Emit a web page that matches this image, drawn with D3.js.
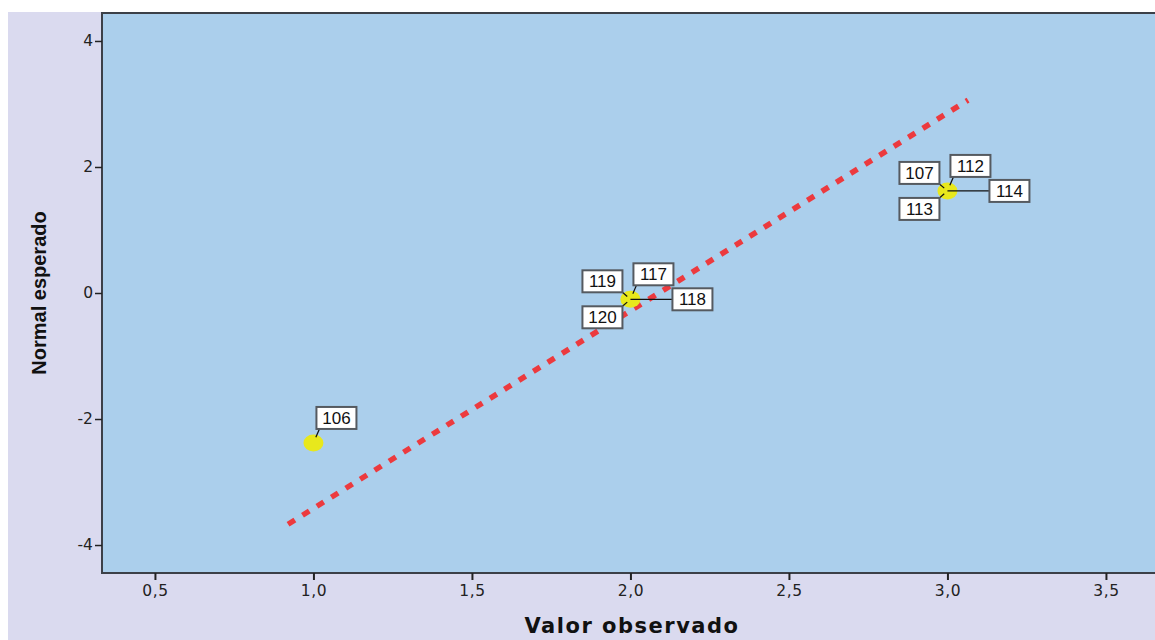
<!DOCTYPE html>
<html>
<head>
<meta charset="utf-8">
<script src="https://cdn.jsdelivr.net/npm/d3@7"></script>
<style>
  body { margin: 0; background: #ffffff; }
  svg { display: block; }
</style>
</head>
<body>
<div id="chart"></div>
<script>
// data
const obsValues = [1, 2, 2, 2, 2, 3, 3, 3, 3];
const expValues = [-2.38, -0.1, -0.1, -0.1, -0.1, 1.62, 1.62, 1.62, 1.62];
const caseIds = ["106", "117", "118", "119", "120", "112", "114", "107", "113"];
// label placement for each case: up, right, upleft, downleft
const labelPos = ["up", "up", "right", "upleft", "downleft", "up", "right", "upleft", "downleft"];
const refLineX = [0.92, 3.065];
const refLineY = [-3.67, 3.06];
const xTicks = [0.5, 1.0, 1.5, 2.0, 2.5, 3.0, 3.5];
const yTicks = [-4, -2, 0, 2, 4];

const W = 1155, H = 640;
const margin = {left: 102, top: 13, right: 0, bottom: 67};
const plotW = W - margin.left - margin.right,
      plotH = H - margin.top - margin.bottom;

const svg = d3.select("#chart")
    .append("svg")
    .attr("width", W)
    .attr("height", H);

// outer lavender background
svg.append("rect")
    .attr("x", 8).attr("y", 12)
    .attr("width", W - 8).attr("height", H - 12)
    .attr("fill", "#dadaef");

const g = svg.append("g")
    .attr("transform", "translate(" + margin.left + "," + margin.top + ")");

const x = d3.scaleLinear()
    .domain([0.333, 0.333 + plotW / 317])
    .range([0, plotW]);
const y = d3.scaleLinear()
    .domain([-4.444, 4.444])
    .range([plotH, 0]);

// plot area
g.append("rect")
    .attr("width", plotW + 5).attr("height", plotH)
    .attr("fill", "#abcfec")
    .attr("stroke", "#3c4048")
    .attr("stroke-width", 2);

// axes
const yAxis = g.append("g")
    .call(d3.axisLeft(y).tickValues(yTicks).tickSize(7).tickSizeOuter(0).tickFormat(d3.format("d")));
yAxis.select(".domain").remove();
yAxis.selectAll("line").attr("stroke", "#222").attr("stroke-width", 1.5);
yAxis.selectAll("text")
    .attr("font-family", "DejaVu Sans, sans-serif")
    .attr("font-size", 15.5)
    .attr("fill", "#222")
    .attr("x", -9)
    .text(d => d < 0 ? "-" + Math.abs(d) : d);

const xAxis = g.append("g")
    .attr("transform", "translate(0," + plotH + ")")
    .call(d3.axisBottom(x).tickValues(xTicks).tickSize(7).tickSizeOuter(0)
        .tickFormat(d => d3.format(".1f")(d).replace(".", ",")));
xAxis.select(".domain").remove();
xAxis.selectAll("line").attr("stroke", "#222").attr("stroke-width", 2);
xAxis.selectAll("text")
    .attr("font-family", "DejaVu Sans, sans-serif")
    .attr("font-size", 15.5)
    .attr("letter-spacing", 0.6)
    .attr("fill", "#222")
    .attr("y", 12);

// reference line
g.append("line")
    .attr("x1", x(refLineX[0])).attr("y1", y(refLineY[0]))
    .attr("x2", x(refLineX[1])).attr("y2", y(refLineY[1]))
    .attr("stroke", "#ec3a3e")
    .attr("stroke-width", 5.5)
    .attr("stroke-dasharray", "8,9");

// points
const pts = obsValues.map((v, i) => ({x: v, y: expValues[i], id: caseIds[i], pos: labelPos[i]}));

const uniq = pts.filter((p, i) => pts.findIndex(q => q.x === p.x && q.y === p.y) === i);
g.selectAll("ellipse.pt")
    .data(uniq)
    .enter().append("ellipse")
    .attr("class", "pt")
    .attr("cx", d => x(d.x)).attr("cy", d => y(d.y))
    .attr("rx", 10).attr("ry", 8.5)
    .attr("fill", "#e8e81c");

// label offsets from the point (box left/top) and leader line end
const offs = {
  up:       {dx: 3,   dy: -36, lx: 6,   ly: -14},
  right:    {dx: 42,  dy: -11, lx: 42,  ly: 0},
  upleft:   {dx: -48, dy: -29, lx: -8,  ly: -7},
  downleft: {dx: -48, dy: 7,   lx: -8,  ly: 7}
};

const lab = g.selectAll("g.lab")
    .data(pts)
    .enter().append("g")
    .attr("class", "lab");

lab.append("line")
    .attr("x1", d => x(d.x) + (d.pos === "right" ? 0 : offs[d.pos].lx * 0.4))
    .attr("y1", d => y(d.y) + (d.pos === "right" ? 0 : offs[d.pos].ly * 0.4))
    .attr("x2", d => x(d.x) + offs[d.pos].lx)
    .attr("y2", d => y(d.y) + offs[d.pos].ly)
    .attr("stroke", "#111")
    .attr("stroke-width", 1.2);

lab.append("rect")
    .attr("x", d => x(d.x) + offs[d.pos].dx)
    .attr("y", d => y(d.y) + offs[d.pos].dy)
    .attr("width", 40).attr("height", 22)
    .attr("fill", "#ffffff")
    .attr("stroke", "#555a60")
    .attr("stroke-width", 2);

lab.append("text")
    .attr("x", d => x(d.x) + offs[d.pos].dx + 20)
    .attr("y", d => y(d.y) + offs[d.pos].dy + 17)
    .attr("text-anchor", "middle")
    .attr("font-family", "Liberation Sans, Arial, sans-serif")
    .attr("font-size", 17)
    .attr("fill", "#111")
    .text(d => d.id);

// axis titles
svg.append("text")
    .attr("x", 632).attr("y", 633)
    .attr("text-anchor", "middle")
    .attr("font-family", "DejaVu Sans, Verdana, sans-serif")
    .attr("font-weight", "bold")
    .attr("font-size", 21)
    .attr("letter-spacing", 1.5)
    .attr("fill", "#111")
    .text("Valor observado");

svg.append("text")
    .attr("transform", "translate(46,293) rotate(-90)")
    .attr("text-anchor", "middle")
    .attr("font-family", "Liberation Sans Narrow, Arial Narrow, sans-serif")
    .attr("font-stretch", "condensed")
    .attr("font-weight", "bold")
    .attr("font-size", 20)
    .attr("fill", "#111")
    .text("Normal esperado");
</script>
</body>
</html>
